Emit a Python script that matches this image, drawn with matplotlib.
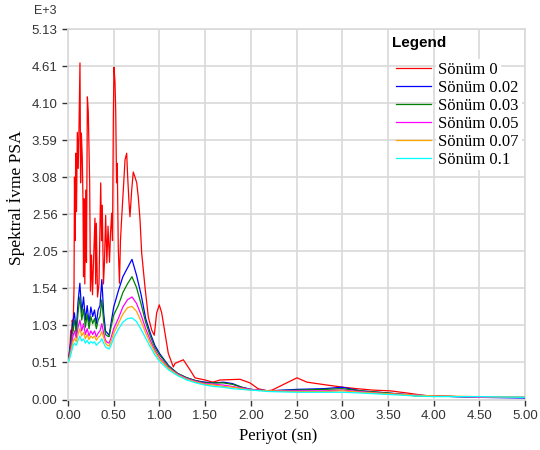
"""
Spectral acceleration (PSA) response spectra for several damping ratios.
Values are in E+3 units, periods in seconds.
"""
import numpy as np
import matplotlib
matplotlib.use("Agg")
import matplotlib.pyplot as plt

# Undamped spectrum (Sönüm 0) - sampled densely, it is very jagged
t_red = [0.011, 0.022, 0.030, 0.038, 0.047, 0.055, 0.066, 0.071, 0.079, 0.084,
         0.093, 0.102, 0.112, 0.120, 0.131, 0.138, 0.146, 0.156, 0.164, 0.170,
         0.175, 0.184, 0.194, 0.202, 0.212, 0.222, 0.237, 0.246, 0.257, 0.268,
         0.279, 0.295, 0.303, 0.310, 0.323, 0.339, 0.358, 0.367, 0.375, 0.388,
         0.399, 0.412, 0.425, 0.438, 0.454, 0.465, 0.478, 0.487, 0.496, 0.503,
         0.514, 0.522, 0.531, 0.539, 0.550, 0.563, 0.574, 0.588, 0.605, 0.624,
         0.642, 0.653, 0.667, 0.678, 0.697, 0.714, 0.733, 0.752, 0.769, 0.788,
         0.806, 0.842, 0.879, 0.916, 0.944, 0.970, 0.999, 1.025, 1.061, 1.097,
         1.152, 1.171, 1.262, 1.335, 1.389, 1.499, 1.586, 1.663, 1.882, 1.991,
         2.079, 2.177, 2.232, 2.505, 2.615, 2.834, 3.009, 3.162, 3.337, 3.523,
         3.709, 3.928, 4.070]
psa_red = [0.59, 0.75, 0.96, 0.80, 1.10, 0.95, 1.56, 3.08, 2.20, 3.41,
           2.60, 3.70, 3.20, 3.73, 4.66, 3.00, 3.69, 3.36, 2.76, 1.70,
           2.78, 1.60, 2.90, 1.90, 4.19, 3.98, 3.00, 1.50, 2.00, 1.45,
           1.90, 2.51, 1.60, 2.44, 1.42, 1.60, 3.00, 2.20, 2.69, 1.60,
           1.90, 2.55, 1.89, 2.40, 1.90, 2.30, 2.58, 2.20, 3.90, 4.60,
           4.40, 4.00, 3.00, 3.27, 2.10, 1.61, 2.20, 2.53, 2.90, 3.32,
           3.41, 3.08, 2.74, 2.53, 2.90, 3.15, 3.08, 3.00, 2.80, 2.49,
           2.03, 1.56, 1.14, 0.96, 0.89, 1.20, 1.31, 1.20, 0.92, 0.64,
           0.45, 0.50, 0.55, 0.41, 0.30, 0.27, 0.24, 0.27, 0.28, 0.23,
           0.15, 0.12, 0.13, 0.30, 0.24, 0.20, 0.17, 0.15, 0.13, 0.12,
           0.09, 0.05, 0.05]

# Damped spectra share one period grid
t_damped = [0.01, 0.03, 0.05, 0.07, 0.09, 0.11, 0.13, 0.15, 0.17, 0.19,
            0.21, 0.23, 0.25, 0.27, 0.29, 0.31, 0.33, 0.35, 0.37, 0.39,
            0.41, 0.43, 0.45, 0.47, 0.50, 0.55, 0.60, 0.65, 0.70, 0.75,
            0.80, 0.85, 0.90, 0.95, 1.00, 1.10, 1.20, 1.30, 1.40, 1.50,
            1.60, 1.70, 1.80, 1.90, 2.00, 2.20, 2.50, 2.80, 3.00, 3.20,
            3.50, 3.80, 4.00, 4.50, 5.00]
psa_002 = [0.60, 0.80, 1.05, 1.20, 0.95, 1.35, 1.61, 1.20, 1.42, 1.10,
           1.30, 1.05, 1.28, 1.15, 1.24, 1.05, 1.24, 1.30, 1.66, 1.20,
           0.95, 0.92, 0.89, 1.05, 1.28, 1.50, 1.70, 1.82, 1.94, 1.72,
           1.45, 1.12, 0.92, 0.75, 0.64, 0.47, 0.36, 0.30, 0.26, 0.24,
           0.23, 0.24, 0.22, 0.17, 0.14, 0.12, 0.14, 0.15, 0.17, 0.12,
           0.09, 0.06, 0.05, 0.03, 0.02]
psa_003 = [0.58, 0.75, 0.95, 1.10, 0.90, 1.20, 1.42, 1.10, 1.25, 1.00,
           1.18, 0.98, 1.15, 1.05, 1.12, 0.98, 1.10, 1.15, 1.38, 1.08,
           0.90, 0.88, 0.87, 1.00, 1.17, 1.30, 1.48, 1.60, 1.70, 1.55,
           1.32, 1.07, 0.88, 0.72, 0.62, 0.46, 0.36, 0.30, 0.26, 0.23,
           0.23, 0.23, 0.21, 0.17, 0.14, 0.12, 0.13, 0.14, 0.15, 0.12,
           0.09, 0.05, 0.05, 0.03, 0.03]
psa_005 = [0.56, 0.70, 0.85, 0.95, 0.85, 1.00, 1.10, 0.95, 1.05, 0.90,
           0.98, 0.88, 0.95, 0.90, 0.95, 0.87, 0.92, 0.95, 1.05, 0.92,
           0.82, 0.79, 0.78, 0.85, 0.98, 1.12, 1.28, 1.38, 1.42, 1.33,
           1.17, 0.98, 0.82, 0.68, 0.58, 0.44, 0.35, 0.29, 0.25, 0.22,
           0.21, 0.20, 0.18, 0.16, 0.14, 0.12, 0.12, 0.12, 0.13, 0.11,
           0.08, 0.06, 0.05, 0.03, 0.03]
psa_007 = [0.55, 0.66, 0.78, 0.85, 0.80, 0.90, 0.98, 0.88, 0.93, 0.84,
           0.90, 0.83, 0.88, 0.85, 0.88, 0.82, 0.86, 0.88, 0.94, 0.86,
           0.78, 0.75, 0.74, 0.80, 0.92, 1.05, 1.18, 1.27, 1.29, 1.22,
           1.08, 0.92, 0.78, 0.66, 0.56, 0.43, 0.34, 0.28, 0.24, 0.21,
           0.20, 0.18, 0.17, 0.15, 0.13, 0.12, 0.11, 0.11, 0.12, 0.10,
           0.08, 0.06, 0.05, 0.04, 0.03]
psa_010 = [0.53, 0.62, 0.72, 0.78, 0.75, 0.82, 0.88, 0.81, 0.84, 0.78,
           0.82, 0.77, 0.80, 0.78, 0.80, 0.75, 0.78, 0.80, 0.84, 0.78,
           0.73, 0.71, 0.70, 0.75, 0.85, 0.97, 1.07, 1.12, 1.13, 1.08,
           0.97, 0.85, 0.73, 0.62, 0.53, 0.41, 0.33, 0.27, 0.23, 0.20,
           0.18, 0.17, 0.15, 0.14, 0.13, 0.11, 0.10, 0.10, 0.10, 0.09,
           0.07, 0.05, 0.04, 0.04, 0.03]

labels = ["Sönüm 0", "Sönüm 0.02", "Sönüm 0.03", "Sönüm 0.05", "Sönüm 0.07", "Sönüm 0.1"]
colors = ["#ff0000", "#0000ff", "#008000", "#ff00ff", "#ffa500", "#00ffff"]

x_ticks = [0.0, 0.5, 1.0, 1.5, 2.0, 2.5, 3.0, 3.5, 4.0, 4.5, 5.0]
y_tick_labels = ["0.00", "0.51", "1.03", "1.54", "2.05", "2.56", "3.08", "3.59", "4.10", "4.61", "5.13"]

series = [(t_red, psa_red), (t_damped, psa_002), (t_damped, psa_003),
          (t_damped, psa_005), (t_damped, psa_007), (t_damped, psa_010)]

W, H = 540, 450
fig = plt.figure(figsize=(5.4, 4.5), dpi=100)
ax = fig.add_axes([68 / W, 1 - 399.5 / H, (525 - 68) / W, (399.5 - 29) / H])

for (t, v), lab, c in zip(series, labels, colors):
    ax.plot(t, v, color=c, lw=0.9, label=lab, zorder=3)

ax.set_xlim(0, 5)
ax.set_ylim(0, 5.13)
ax.set_xticks(x_ticks)
ax.set_xticklabels([f"{x:.2f}" for x in x_ticks])
ax.set_yticks(np.linspace(0, 5.13, len(y_tick_labels)))
ax.set_yticklabels(y_tick_labels)

grid_c = "#d9d9d9"
ax.grid(True, color=grid_c, lw=1.2, zorder=0)
ax.set_axisbelow(True)
for s in ax.spines.values():
    s.set_color(grid_c)
    s.set_linewidth(1.2)

ax.tick_params(direction="out", length=4, width=1, color="#333333",
               labelcolor="#333333", labelsize=9.5)
for lbl in ax.get_xticklabels() + ax.get_yticklabels():
    lbl.set_fontfamily("Liberation Sans")

# axis titles sit a bit off-centre in the original
ax.set_xlabel("Periyot (sn)", family="Liberation Serif", fontsize=12, labelpad=5)
ax.xaxis.set_label_coords(0.46, -0.078)
ax.set_ylabel("Spektral İvme PSA", family="Liberation Serif", fontsize=12.5)
ax.yaxis.set_label_coords(-0.094, 0.545)

fig.text(34 / W, 1 - 11 / H, "E+3", family="Liberation Sans", fontsize=9,
         color="#333333", va="center", ha="left")

# legend title drawn separately so the gap above the entries matches
fig.text(392 / W, 1 - 43 / H, "Legend", family="Liberation Sans", weight="bold",
         fontsize=11, va="center", ha="left")
leg = ax.legend(loc="upper left", bbox_to_anchor=(0.7177, 0.912), frameon=False,
                borderaxespad=0, borderpad=0, handlelength=2.1,
                handletextpad=0.45, labelspacing=0.12,
                prop={"family": "Liberation Serif", "size": 12})
for txt in leg.get_texts():
    txt.set_bbox(dict(facecolor="white", edgecolor="none", pad=2.0))

fig.savefig("out.png", dpi=100)
